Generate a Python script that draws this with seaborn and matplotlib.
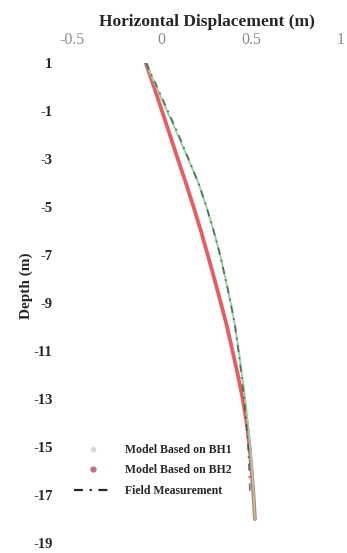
import numpy as np
import pandas as pd
import matplotlib
matplotlib.use('Agg')
import matplotlib.pyplot as plt
from matplotlib.lines import Line2D
import seaborn as sns

# Data
depth = [1, 0, -1, -2, -3, -4, -5, -6, -7, -8, -9, -10, -11, -12, -13, -14, -15, -16, -17, -18]
disp_bh1 = [-0.088, -0.03, 0.03, 0.09, 0.148, 0.205, 0.25, 0.29, 0.326, 0.356, 0.385, 0.41,
            0.43, 0.448, 0.466, 0.48, 0.494, 0.505, 0.513, 0.52]
disp_bh2 = [-0.088, -0.043, 0.002, 0.046, 0.09, 0.135, 0.178, 0.219, 0.257, 0.294, 0.33, 0.365,
            0.395, 0.425, 0.452, 0.474, 0.49, 0.502, 0.512, 0.52]
field_depth = [1, 0, -1, -2, -3, -4, -5, -6, -7, -8, -9, -10, -11, -12, -13, -14, -15, -16, -17]
field_disp = [-0.088, -0.025, 0.035, 0.095, 0.15, 0.205, 0.25, 0.29, 0.326, 0.356, 0.385, 0.41,
              0.428, 0.445, 0.46, 0.472, 0.482, 0.488, 0.493]

x_ticks = [-0.5, 0, 0.5, 1]
x_tick_labels = ['-0.5', '0', '0.5', '1']
y_ticks = [1, -1, -3, -5, -7, -9, -11, -13, -15, -17, -19]

sns.set_style('white')
plt.rcParams['font.family'] = ['Liberation Serif', 'DejaVu Serif']

W, H = 347, 553
fig = plt.figure(figsize=(W / 100, H / 100), dpi=100)
# axes box in pixels: x from 72 to 341, y from 63 to 543
ax = fig.add_axes([72 / W, 1 - 543 / H, (341 - 72) / W, (543 - 63) / H])

df1 = pd.DataFrame({'x': disp_bh1, 'y': depth})
df2 = pd.DataFrame({'x': disp_bh2, 'y': depth})
df3 = pd.DataFrame({'x': field_disp, 'y': field_depth})

sns.lineplot(data=df2, x='x', y='y', sort=False, estimator=None, ax=ax,
             color='#ec5a60', linewidth=2.7)
sns.lineplot(data=df1, x='x', y='y', sort=False, estimator=None, ax=ax,
             color='#8fd6a0', linewidth=1.4)
sns.lineplot(data=df3, x='x', y='y', sort=False, estimator=None, ax=ax,
             color='#2f4a3e', linewidth=1.3, linestyle=(0, (4, 3, 1, 3)), alpha=0.7)

ax.set_xlim(-0.5, 1)
ax.set_ylim(-19, 1)
ax.xaxis.tick_top()
ax.xaxis.set_label_position('top')
ax.set_xticks(x_ticks)
ax.set_xticklabels(x_tick_labels, color='#8a8a8a', fontsize=11.5)
ax.set_yticks(y_ticks)
ax.set_yticklabels([str(t) for t in y_ticks], fontsize=10.5, fontweight='bold')
ax.tick_params(axis='x', length=0, pad=11)
ax.tick_params(axis='y', length=0, pad=14)
ax.set_xlabel('Horizontal Displacement (m)', fontsize=12.5, fontweight='bold', labelpad=4)
ax.set_ylabel('Depth (m)', fontsize=11, fontweight='bold')
ax.yaxis.set_label_coords(-0.145, 0.535)
for s in ax.spines.values():
    s.set_visible(False)

handles = [
    Line2D([], [], marker='o', linestyle='none', markersize=3, color='#ddd5dc'),
    Line2D([], [], marker='o', linestyle='none', markersize=3.5, color='#c46d8a'),
    Line2D([], [], color='#1d2a24', linewidth=1.6, linestyle=(0, (4, 3, 1, 3))),
]
labels = ['Model Based on BH1', 'Model Based on BH2', 'Field Measurement']
ax.legend(handles, labels, loc='upper left', bbox_to_anchor=(68 / W, 1 - 438 / H),
          bbox_transform=fig.transFigure, frameon=False, handlelength=3.2,
          handletextpad=1.1, labelspacing=0.72, borderpad=0,
          prop={'weight': 'bold', 'size': 8.5})

fig.savefig('out.png', dpi=100)
